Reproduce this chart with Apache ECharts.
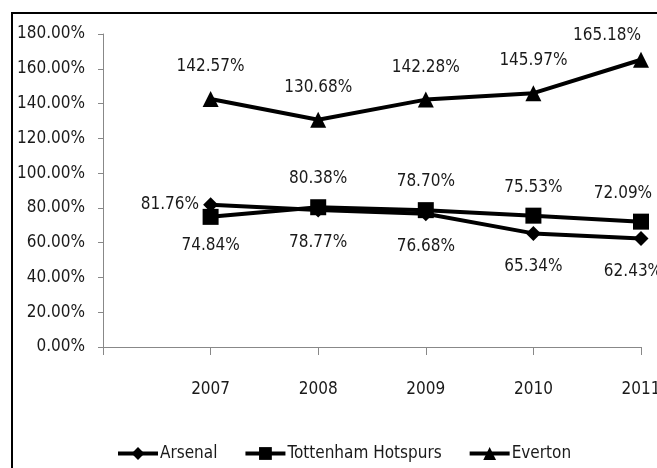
<!DOCTYPE html>
<html>
<head>
<meta charset="utf-8">
<script src="https://cdn.jsdelivr.net/npm/echarts@6/dist/echarts.min.js"></script>
<style>
  html, body { margin: 0; padding: 0; background: #fff; }
  #chart { width: 657px; height: 468px; }
</style>
</head>
<body>
<div id="chart"></div>
<script>
// 数据
var years = ['2007', '2008', '2009', '2010', '2011'];
var arsenal = [81.76, 78.77, 76.68, 65.34, 62.43];
var tottenham = [74.84, 80.38, 78.70, 75.53, 72.09];
var everton = [142.57, 130.68, 142.28, 145.97, 165.18];
var yTicks = [0, 20, 40, 60, 80, 100, 120, 140, 160, 180];

var font = '"Liberation Sans Narrow", "DejaVu Sans Condensed", sans-serif';
var textColor = '#1a1a1a';
var fs = 17;

// 第一个空类目占住y轴位置
var cats = [''].concat(years);
function pad (arr) { return [null].concat(arr); }

// 最后一个标签往左挪，避免被右边裁掉
function labelled (arr, pos, dist, firstPos, lastOffset) {
  var d = pad(arr);
  return d.map(function (v, i) {
    if (v === null) return null;
    var p = (i === 1 && firstPos) ? firstPos : pos;
    var l = { position: p, distance: p === 'left' ? 4 : dist };
    if (i === d.length - 1 && lastOffset) l.offset = lastOffset;
    return { value: v, label: l };
  });
}

var chart = echarts.init(document.getElementById('chart'));
var lbl = {
  show: true,
  color: textColor,
  fontFamily: font,
  fontSize: fs,
  formatter: function (p) { return p.value.toFixed(2) + '%'; }
};

var option = {
  animation: false,
  graphic: [{
    type: 'rect',
    shape: { x: 12, y: 13, width: 700, height: 500 },
    style: { fill: 'none', stroke: '#000', lineWidth: 2 }
  }],
  legend: {
    top: 445,
    left: 116,
    padding: 0,
    itemWidth: 40,
    itemHeight: 16,
    itemGap: 26,
    lineStyle: { width: 4, color: '#000' },
    textStyle: { color: textColor, fontFamily: font, fontSize: fs, padding: [0, 0, 0, -3] },
    data: ['Arsenal', 'Tottenham Hotspurs', 'Everton']
  },
  grid: { left: 103, right: 16, top: 34, bottom: 121, outerBoundsMode: 'none' },
  xAxis: {
    type: 'category',
    data: cats,
    boundaryGap: false,
    axisLine: { lineStyle: { color: '#888', width: 1 } },
    axisTick: { show: true, length: 8, lineStyle: { color: '#888' } },
    axisLabel: { color: textColor, fontFamily: font, fontSize: fs, margin: 34, interval: 0, showMaxLabel: true }
  },
  yAxis: {
    type: 'value',
    min: yTicks[0],
    max: yTicks[yTicks.length - 1],
    interval: 20,
    axisLine: { show: true, lineStyle: { color: '#888', width: 1 } },
    axisTick: { show: true, length: 5, lineStyle: { color: '#888' } },
    splitLine: { show: false },
    axisLabel: {
      color: textColor, fontFamily: font, fontSize: fs, margin: 18,
      formatter: function (v) { return v.toFixed(2) + '%'; }
    }
  },
  series: [
    {
      name: 'Arsenal', type: 'line', data: labelled(arsenal, 'bottom', 17, 'left', [-8, 0]),
      symbol: 'diamond', symbolSize: 15,
      lineStyle: { color: '#000', width: 4 }, itemStyle: { color: '#000' },
      label: lbl
    },
    {
      name: 'Tottenham Hotspurs', type: 'line', data: labelled(tottenham, 'top', 12, 'bottom', [-18, 0]),
      symbol: 'rect', symbolSize: 16,
      lineStyle: { color: '#000', width: 4 }, itemStyle: { color: '#000' },
      label: lbl
    },
    {
      name: 'Everton', type: 'line', data: labelled(everton, 'top', 16, null, [-34, 8]),
      symbol: 'triangle', symbolSize: 16,
      lineStyle: { color: '#000', width: 4 }, itemStyle: { color: '#000' },
      label: lbl
    }
  ]
};
chart.setOption(option);
</script>
</body>
</html>
